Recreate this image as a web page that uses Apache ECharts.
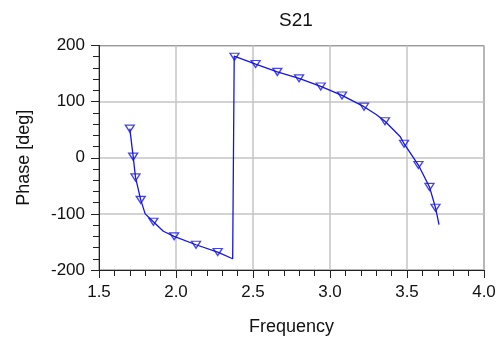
<!DOCTYPE html>
<html>
<head>
<meta charset="utf-8">
<script src="https://cdn.jsdelivr.net/npm/echarts@6/dist/echarts.min.js"></script>
<style>
html,body{margin:0;padding:0;background:#fff;}
#chart{width:501px;height:341px;}
</style>
</head>
<body>
<div id="chart"></div>
<script>
// Curve samples (frequency, phase in degrees)
var curveFreq  = [1.700, 1.722, 1.737, 1.771, 1.800, 1.853, 1.918, 1.988, 2.130, 2.271, 2.368,
                  2.378, 2.517, 2.658, 2.799, 2.940, 3.078, 3.221, 3.300, 3.357, 3.455, 3.481, 3.574, 3.646, 3.685, 3.708];
var curvePhase = [52, 2, -35, -75, -100, -114, -131, -140, -155, -168, -180,
                  181, 167, 153, 141.5, 127, 111, 91, 77, 65, 38, 25, -13, -52, -89, -119];
// Marker points
var markerFreq  = [1.700, 1.722, 1.737, 1.771, 1.853, 1.988, 2.130, 2.271,
                   2.380, 2.517, 2.658, 2.799, 2.940, 3.078, 3.221, 3.357, 3.481, 3.574, 3.646, 3.685];
var markerPhase = [52, 2, -35, -75, -114, -140, -155, -168,
                   180, 167, 153, 141.5, 127, 111, 91, 65, 25, -13, -52, -89];
var xTicks = [1.5, 2.0, 2.5, 3.0, 3.5, 4.0];
var yTicks = [-200, -100, 0, 100, 200];
var titleText = 'S21';
var xName = 'Frequency';
var yName = 'Phase [deg]';

var curve = curveFreq.map(function(f, i){ return [f, curvePhase[i]]; });
var markers = markerFreq.map(function(f, i){ return [f, markerPhase[i]]; });

var font = "'Liberation Sans', Arial, sans-serif";
var chart = echarts.init(document.getElementById('chart'), null, {renderer: 'canvas'});
chart.setOption({
  animation: false,
  backgroundColor: '#fff',
  title: {
    text: titleText, left: 291, top: 6, textAlign: 'center',
    textStyle: {fontFamily: font, fontSize: 19, fontWeight: 'normal', color: '#111'}
  },
  grid: {left: 99, right: 17, top: 45.5, bottom: 70.5, show: true, borderColor: '#222', borderWidth: 1, backgroundColor: '#fff'},
  xAxis: {
    type: 'value', min: xTicks[0], max: xTicks[xTicks.length - 1], interval: 0.5,
    name: xName, nameLocation: 'middle', nameGap: 48,
    nameTextStyle: {fontFamily: font, fontSize: 18, color: '#111'},
    axisLine: {onZero: false, lineStyle: {color: '#222', width: 1}},
    axisTick: {show: true, length: 8, lineStyle: {color: '#222'}},
    minorTick: {show: true, splitNumber: 5, length: 6, lineStyle: {color: '#222'}},
    axisLabel: {fontFamily: font, fontSize: 17, color: '#111', margin: 14,
      formatter: function(v){ return v.toFixed(1); }},
    splitLine: {show: true, lineStyle: {color: '#c4c4c4', width: 1.5}}
  },
  yAxis: {
    type: 'value', min: yTicks[0], max: yTicks[yTicks.length - 1], interval: 100,
    name: yName, nameLocation: 'middle', nameGap: 66,
    nameTextStyle: {fontFamily: font, fontSize: 18, color: '#111'},
    axisLine: {show: true, onZero: false, lineStyle: {color: '#222', width: 1}},
    axisTick: {show: true, length: 8, lineStyle: {color: '#222'}},
    minorTick: {show: true, splitNumber: 5, length: 6, lineStyle: {color: '#222'}},
    axisLabel: {fontFamily: font, fontSize: 17, color: '#111', margin: 14},
    splitLine: {show: true, lineStyle: {color: '#c4c4c4', width: 1.5}}
  },
  series: [
    {
      type: 'line', data: curve, showSymbol: false, symbol: 'none',
      lineStyle: {color: '#1515e0', width: 1.3}, z: 3
    },
    {
      type: 'scatter', data: markers, symbol: 'triangle', symbolRotate: 180, symbolSize: [9, 7],
      itemStyle: {color: 'rgba(255,255,255,0)', borderColor: '#1515e0', borderWidth: 1.3}, z: 4
    }
  ]
});
</script>
</body>
</html>
